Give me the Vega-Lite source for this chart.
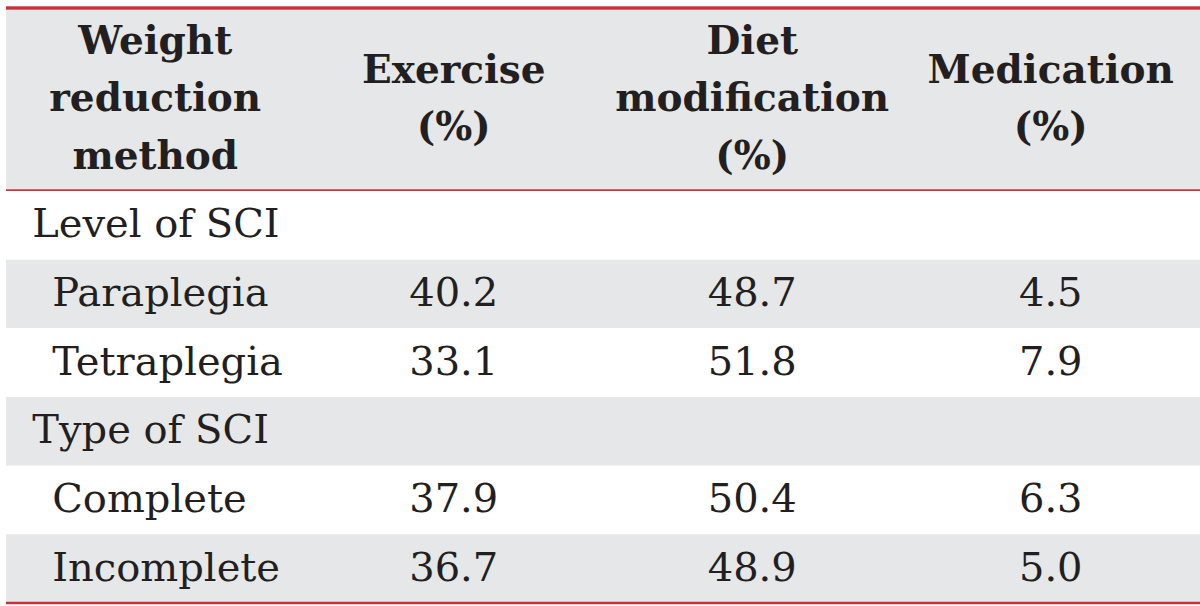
{
  "$schema": "https://vega.github.io/schema/vega-lite/v6.json",
  "padding": {"left": 4, "top": 6, "right": 2, "bottom": 5},
  "background": "white",
  "spacing": 0,
  "bounds": "flush",
  "config": {
    "view": {"stroke": null},
    "text": {"font": "DejaVu Serif", "color": "#231f20"}
  },
  "vconcat": [
    {
      "width": 1194,
      "height": 183,
      "data": {
        "values": [
          {"col": "Weight reduction method", "title": "Weight\nreduction\nmethod"},
          {"col": "Exercise", "title": "Exercise\n(%)"},
          {"col": "Diet modification", "title": "Diet\nmodification\n(%)"},
          {"col": "Medication", "title": "Medication\n(%)"}
        ]
      },
      "layer": [
        {
          "mark": {"type": "rect", "fill": "#e6e7e8"},
          "encoding": {
            "y": {"datum": "header", "type": "nominal", "axis": null, "scale": {"paddingInner": 0, "paddingOuter": 0}}
          }
        },
        {
          "mark": {"type": "rule", "color": "#c8323b", "strokeWidth": 2.5},
          "encoding": {
            "y": {"datum": "header", "type": "nominal", "axis": null, "bandPosition": 0}
          }
        },
        {
          "mark": {"type": "rule", "color": "#c8323b", "strokeWidth": 2.5},
          "encoding": {
            "y": {"datum": "header", "type": "nominal", "axis": null, "bandPosition": 1}
          }
        },
        {
          "transform": [{"filter": "datum.col === 'Weight reduction method' || datum.col === 'Diet modification'"}],
          "mark": {"type": "text", "fontWeight": "bold", "fontSize": 39, "lineBreak": "\n", "lineHeight": 57.5, "align": "center", "baseline": "middle", "dy": -58},
          "encoding": {
            "x": {"field": "col", "type": "nominal", "axis": null, "sort": null,
                  "scale": {"domain": ["Weight reduction method", "Exercise", "Diet modification", "Medication"], "paddingInner": 0, "paddingOuter": 0}},
            "y": {"datum": "header", "type": "nominal", "axis": null},
            "text": {"field": "title"}
          }
        },
        {
          "transform": [{"filter": "datum.col === 'Exercise' || datum.col === 'Medication'"}],
          "mark": {"type": "text", "fontWeight": "bold", "fontSize": 39, "lineBreak": "\n", "lineHeight": 57.5, "align": "center", "baseline": "middle", "dy": -29},
          "encoding": {
            "x": {"field": "col", "type": "nominal", "axis": null, "sort": null},
            "y": {"datum": "header", "type": "nominal", "axis": null},
            "text": {"field": "title"}
          }
        }
      ]
    },
    {
      "width": 1194,
      "height": 412,
      "data": {
        "values": [
          {"label": "Level of SCI", "level": "group"},
          {"label": "Paraplegia", "level": "item", "Exercise": 40.2, "Diet modification": 48.7, "Medication": 4.5},
          {"label": "Tetraplegia", "level": "item", "Exercise": 33.1, "Diet modification": 51.8, "Medication": 7.9},
          {"label": "Type of SCI", "level": "group"},
          {"label": "Complete", "level": "item", "Exercise": 37.9, "Diet modification": 50.4, "Medication": 6.3},
          {"label": "Incomplete", "level": "item", "Exercise": 36.7, "Diet modification": 48.9, "Medication": 5.0}
        ]
      },
      "encoding": {
        "y": {"field": "label", "type": "nominal", "axis": null, "sort": null,
              "scale": {"domain": ["Level of SCI", "Paraplegia", "Tetraplegia", "Type of SCI", "Complete", "Incomplete"], "paddingInner": 0, "paddingOuter": 0}}
      },
      "layer": [
        {
          "mark": {"type": "rect"},
          "encoding": {
            "fill": {"field": "label", "type": "nominal", "legend": null,
                     "scale": {"domain": ["Level of SCI", "Paraplegia", "Tetraplegia", "Type of SCI", "Complete", "Incomplete"],
                               "range": ["#ffffff", "#e6e7e8", "#ffffff", "#e6e7e8", "#ffffff", "#e6e7e8"]}}
          }
        },
        {
          "transform": [{"filter": "datum.label === 'Incomplete'"}],
          "mark": {"type": "rule", "color": "#c8323b", "strokeWidth": 2.5},
          "encoding": {
            "y": {"field": "label", "type": "nominal", "axis": null, "bandPosition": 1}
          }
        },
        {
          "transform": [{"filter": "datum.level === 'group'"}],
          "mark": {"type": "text", "fontSize": 40, "align": "left", "baseline": "middle", "dx": -123},
          "encoding": {
            "x": {"datum": "Weight reduction method", "type": "nominal", "axis": null,
                  "scale": {"domain": ["Weight reduction method", "Exercise", "Diet modification", "Medication"], "paddingInner": 0, "paddingOuter": 0}},
            "text": {"field": "label"}
          }
        },
        {
          "transform": [{"filter": "datum.level === 'item'"}],
          "mark": {"type": "text", "fontSize": 40, "align": "left", "baseline": "middle", "dx": -103},
          "encoding": {
            "x": {"datum": "Weight reduction method", "type": "nominal", "axis": null},
            "text": {"field": "label"}
          }
        },
        {
          "transform": [
            {"filter": "datum.level === 'item'"},
            {"fold": ["Exercise", "Diet modification", "Medication"], "as": ["col", "value"]}
          ],
          "mark": {"type": "text", "fontSize": 40, "align": "center", "baseline": "middle"},
          "encoding": {
            "x": {"field": "col", "type": "nominal", "axis": null},
            "text": {"field": "value", "type": "quantitative", "format": ".1f"}
          }
        }
      ]
    }
  ]
}
